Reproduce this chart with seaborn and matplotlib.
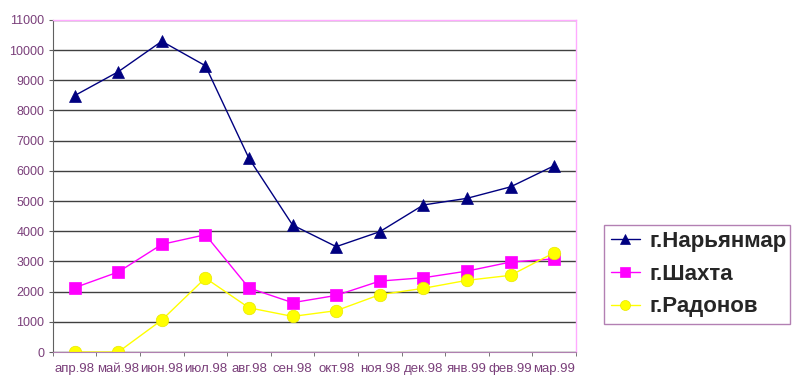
import pandas as pd
import matplotlib
matplotlib.use("Agg")
import matplotlib.pyplot as plt
import seaborn as sns

# months on the x axis
months = ["апр.98", "май.98", "июн.98", "июл.98", "авг.98", "сен.98",
          "окт.98", "ноя.98", "дек.98", "янв.99", "фев.99", "мар.99"]

naryan = [8490, 9280, 10290, 9480, 6410, 4205, 3490, 3985, 4870, 5090, 5470, 6170]
shakhta = [2130, 2650, 3565, 3885, 2120, 1635, 1875, 2350, 2460, 2680, 2980, 3085]
radonov = [0, 0, 1060, 2450, 1465, 1180, 1370, 1900, 2110, 2375, 2540, 3290]

series_names = ["г.Нарьянмар", "г.Шахта", "г.Радонов"]

df = pd.DataFrame({"pos": list(range(len(months))) * 3,
                   "value": naryan + shakhta + radonov,
                   "city": [n for n in series_names for _ in months]})

sns.set_style("white")
plt.rcParams["font.family"] = ["Liberation Sans", "DejaVu Sans"]

fig = plt.figure(figsize=(8, 3.89), dpi=100)
ax = fig.add_axes([0.066, 0.095, 0.654, 0.854])

styles = {"г.Нарьянмар": ("#000080", "^", "#000080"),
          "г.Шахта": ("#ff00ff", "s", "#ff00ff"),
          "г.Радонов": ("#ffff00", "o", "#e8e800")}
for name in series_names:
    col, mk, ec = styles[name]
    sns.lineplot(data=df[df["city"] == name], x="pos", y="value", ax=ax,
                 color=col, marker=mk, markersize=9, markeredgecolor=ec,
                 markeredgewidth=0.5, linewidth=1, label=name)

ax.set_xlim(-0.5, len(months) - 0.5)
ax.set_ylim(0, 11000)
ax.set_yticks(range(0, 11001, 1000))
ax.set_xticks(range(len(months)))
ax.set_xticklabels(months)
ax.set_xticks([i - 0.5 for i in range(len(months) + 1)], minor=True)
ax.tick_params(axis="x", which="major", length=0, pad=8, labelsize=9.5, labelcolor="#7a3f7a")
ax.tick_params(axis="x", which="minor", length=3, direction="out", color="#606060", bottom=True)
ax.tick_params(axis="y", length=3, pad=3, direction="out", color="#606060", left=True,
               labelsize=9, labelcolor="#7a3f7a")
ax.set_xlabel("")
ax.set_ylabel("")
ax.grid(axis="y", color="#404040", linewidth=1)
ax.set_axisbelow(True)
for s in ["top", "right"]:
    ax.spines[s].set_color("#ffaaff")
    ax.spines[s].set_linewidth(1)
ax.spines["left"].set_color("#606060")
ax.spines["bottom"].set_color("#b080b0")

ax.legend_.remove()
h, l = ax.get_legend_handles_labels()
leg = fig.legend(h, l, loc="lower left", bbox_to_anchor=(0.755, 0.167, 0.232, 0.25),
                 mode="expand", frameon=True, fancybox=False, borderaxespad=0,
                 prop={"size": 16, "weight": "bold"}, handlelength=1.3,
                 handletextpad=0.45, labelspacing=0.52, borderpad=0.3, markerscale=0.8)
leg.get_frame().set_edgecolor("#a060a0")
leg.get_frame().set_linewidth(1)

fig.savefig("out.png", dpi=100, facecolor="white")
